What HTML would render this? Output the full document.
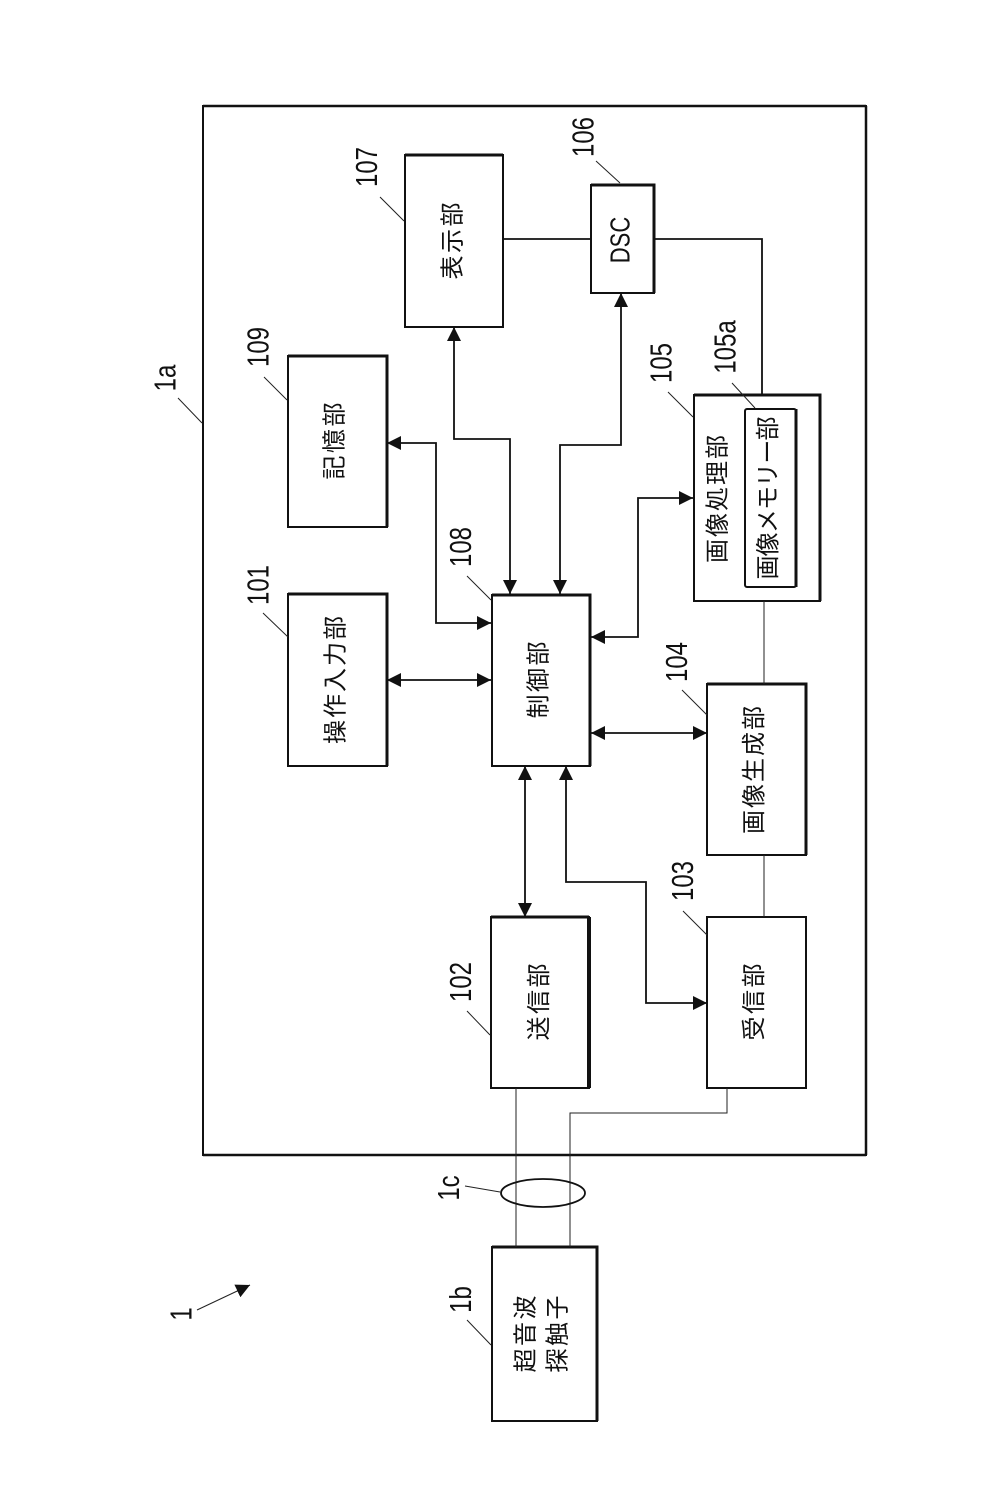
<!DOCTYPE html>
<html><head><meta charset="utf-8">
<style>html,body{margin:0;padding:0;background:#fff}svg{display:block}
text{font-family:"Liberation Sans","Noto Sans CJK JP",sans-serif;fill:#111;text-anchor:middle;dominant-baseline:central}
.j{font-size:24px}.n{font-size:24px}
.b{fill:none;stroke:#111;stroke-width:2}
.l{fill:none;stroke:#111;stroke-width:1.8}
.t{fill:none;stroke:#222;stroke-width:1}
.h{fill:none;stroke:#111;stroke-width:3}
</style></head><body>
<svg xmlns="http://www.w3.org/2000/svg" width="1008" height="1512" viewBox="0 0 1008 1512">
<defs>
<marker id="a" markerUnits="userSpaceOnUse" markerWidth="15" markerHeight="15" refX="14" refY="7" orient="auto-start-reverse"><path d="M0 0L14 7L0 14Z" fill="#111"/></marker>
</defs>
<rect width="1008" height="1512" fill="#fff"/>
<path class="b" d="M203 106H866V1155H203Z"/>
<path class="h" d="M203 106H866M866 106V1155M203 1155H866" style="stroke-width:2.5"/>

<!-- boxes -->
<g class="b">
<rect class="b" x="492" y="1247" width="105" height="174"/>
<rect class="b" x="491" y="917" width="98" height="171"/>
<rect class="b" x="707" y="917" width="99" height="171"/>
<rect class="b" x="707" y="684" width="99" height="171"/>
<rect class="b" x="694" y="395" width="126" height="206"/>
<rect class="b" x="745" y="409" width="51" height="178" rx="2"/>
<rect class="b" x="591" y="185" width="63" height="108"/>
<rect class="b" x="405" y="155" width="98" height="172"/>
<rect class="b" x="492" y="595" width="98" height="171"/>
<rect class="b" x="288" y="594" width="99" height="172"/>
<rect class="b" x="288" y="356" width="99" height="171"/>
</g>
<path class="h" d="M492 1247H597V1421M491 917H589M707 684H806V855M694 395H820V601M591 185H654V293M405 155H503M492 595H590V766M288 594H387V766M288 356H387V527M796 409V587"/>
<path class="h" d="M589 917V1088" style="stroke-width:4"/>

<!-- plain connectors -->
<path class="t" d="M516 1088V1247M727 1088V1113H570V1247M764 601V684M764 855V917"/>
<path class="l" d="M503 239H591M654 239H762V395"/>
<ellipse cx="543" cy="1193" rx="42" ry="14" fill="none" stroke="#111" stroke-width="1.8"/>

<!-- arrows -->
<g class="l">
<path class="l" d="M387 680H491" marker-start="url(#a)" marker-end="url(#a)"/>
<path class="l" d="M387 443H436V623H491" marker-start="url(#a)" marker-end="url(#a)"/>
<path class="l" d="M454 327V439H510V594" marker-start="url(#a)" marker-end="url(#a)"/>
<path class="l" d="M621 293V445H560V594" marker-start="url(#a)" marker-end="url(#a)"/>
<path class="l" d="M693 498H638V637H591" marker-start="url(#a)" marker-end="url(#a)"/>
<path class="l" d="M591 733H707" marker-start="url(#a)" marker-end="url(#a)"/>
<path class="l" d="M525 766V917" marker-start="url(#a)" marker-end="url(#a)"/>
<path class="l" d="M566 766V882H646V1003H707" marker-start="url(#a)" marker-end="url(#a)"/>
<path class="t" d="M197 1310L250 1285" marker-end="url(#a)"/>
</g>

<!-- leaders -->
<path class="t" d="M178 398L202 423M467 1320L491 1345M465 1186L500 1192M467 1011L490 1035M683 911L707 935M682 690L707 715M668 392L693 417M732 383L755 408M596 161L620 183M380 197L404 221M467 576L491 600M264 377L287 400M263 613L288 637"/>

<!-- box labels -->
<g class="j">
<text transform="translate(336,680) rotate(-90)" textLength="128">操作入力部</text>
<text transform="translate(335,441) rotate(-90)" textLength="77">記憶部</text>
<text transform="translate(453,241) rotate(-90)" textLength="77">表示部</text>
<text transform="translate(620.5,240) rotate(-90) scale(1,1.25)" style="font-size:22px">DSC</text>
<text transform="translate(539,680) rotate(-90)" textLength="77">制御部</text>
<text transform="translate(539.5,1002) rotate(-90)" textLength="77">送信部</text>
<text transform="translate(754.5,1002) rotate(-90)" textLength="77">受信部</text>
<text transform="translate(754.5,770) rotate(-90)" textLength="128">画像生成部</text>
<text transform="translate(718,499) rotate(-90)" textLength="128">画像処理部</text>
<text transform="translate(768.5,498) rotate(-90)" textLength="163">画像メモリー部</text>
<text transform="translate(526,1334) rotate(-90)" textLength="77">超音波</text>
<text transform="translate(558,1334) rotate(-90)" textLength="77">探触子</text>
</g>

<!-- numbers -->
<g class="n">
<text transform="translate(181,1314) rotate(-90) scale(1,1.27)">1</text>
<text transform="translate(165,378) rotate(-90) scale(1,1.27)">1a</text>
<text transform="translate(460.5,1299.5) rotate(-90) scale(1,1.27)">1b</text>
<text transform="translate(448.5,1188) rotate(-90) scale(1,1.27)">1c</text>
<text transform="translate(258,585) rotate(-90) scale(1,1.27)">101</text>
<text transform="translate(460.5,982) rotate(-90) scale(1,1.27)">102</text>
<text transform="translate(682.5,881) rotate(-90) scale(1,1.27)">103</text>
<text transform="translate(676.5,662) rotate(-90) scale(1,1.27)">104</text>
<text transform="translate(661,363) rotate(-90) scale(1,1.27)">105</text>
<text transform="translate(725,347) rotate(-90) scale(1,1.27)">105a</text>
<text transform="translate(583,137) rotate(-90) scale(1,1.27)">106</text>
<text transform="translate(366.5,167) rotate(-90) scale(1,1.27)">107</text>
<text transform="translate(460.5,547) rotate(-90) scale(1,1.27)">108</text>
<text transform="translate(258,347) rotate(-90) scale(1,1.27)">109</text>
</g>
</svg>
</body></html>
